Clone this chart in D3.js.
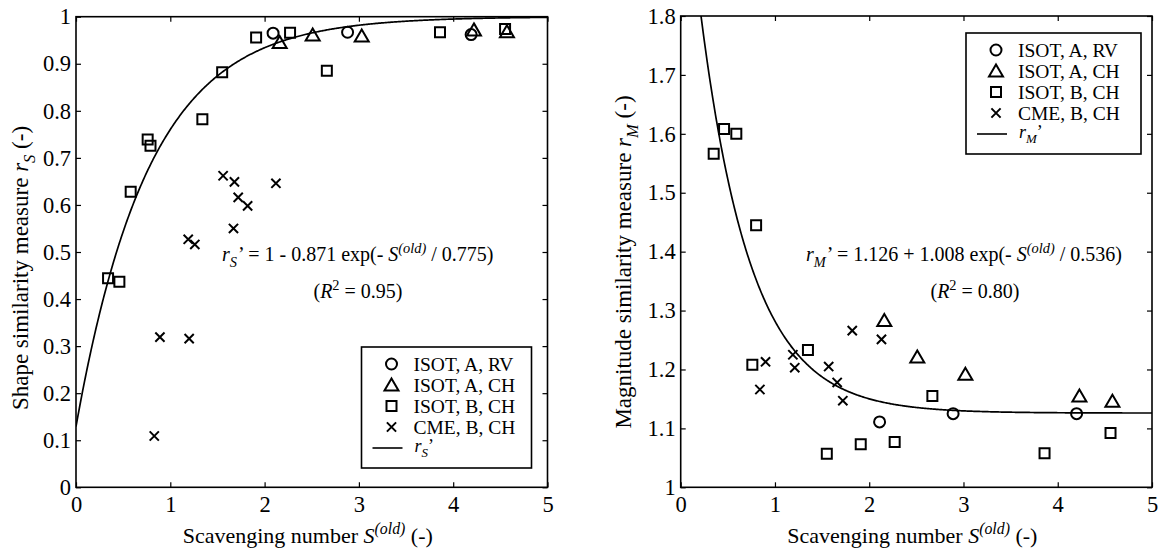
<!DOCTYPE html>
<html>
<head>
<meta charset="utf-8">
<script src="https://cdn.jsdelivr.net/npm/d3@7"></script>
<style>
    body { margin: 0; background: #fff; }
    svg { display: block; font-family: "Liberation Serif", "Times New Roman", serif; }
    svg text { font-family: "Liberation Serif", "Times New Roman", serif; fill: #000; }
</style>
</head>
<body>
<svg id="chart" width="1159" height="554"></svg>
<script>
// x axis (shared)
const xTicks = [0, 1, 2, 3, 4, 5];

// left panel: shape similarity r_S
const shapeTicks = [0, 0.1, 0.2, 0.3, 0.4, 0.5, 0.6, 0.7, 0.8, 0.9, 1];
const shapeCircle = [[2.09, 0.965], [2.88, 0.967], [4.19, 0.962]];
const shapeTriangle = [[2.16, 0.945], [2.51, 0.961], [3.03, 0.959], [4.22, 0.972], [4.57, 0.968]];
const shapeSquare = [[0.34, 0.444], [0.46, 0.437], [0.58, 0.628], [0.76, 0.739], [0.79, 0.726],
    [1.34, 0.782], [1.55, 0.882], [1.91, 0.956], [2.27, 0.966], [2.66, 0.885], [3.86, 0.967], [4.55, 0.974]];
const shapeCross = [[0.83, 0.109], [0.89, 0.319], [1.19, 0.527], [1.20, 0.316], [1.26, 0.516],
    [1.56, 0.662], [1.67, 0.550], [1.68, 0.649], [1.72, 0.616], [1.82, 0.598], [2.12, 0.646]];
const shapeFit = { a: 1, b: -0.871, c: 0.775 };

// right panel: magnitude similarity r_M
const magTicks = [1, 1.1, 1.2, 1.3, 1.4, 1.5, 1.6, 1.7, 1.8];
const magCircle = [[2.11, 1.111], [2.89, 1.125], [4.20, 1.125]];
const magTriangle = [[2.16, 1.283], [2.51, 1.221], [3.02, 1.192], [4.23, 1.155], [4.58, 1.146]];
const magSquare = [[0.35, 1.566], [0.46, 1.608], [0.59, 1.600], [0.76, 1.208], [0.80, 1.445],
    [1.35, 1.233], [1.55, 1.057], [1.91, 1.073], [2.27, 1.077], [2.67, 1.155], [3.86, 1.058], [4.56, 1.092]];
const magCross = [[0.84, 1.166], [0.90, 1.213], [1.19, 1.225], [1.21, 1.203], [1.57, 1.205],
    [1.66, 1.178], [1.72, 1.147], [1.82, 1.266], [2.13, 1.251]];
const magFit = { a: 1.126, b: 1.008, c: 0.536 };

const legendLabels = ['ISOT, A, RV', 'ISOT, A, CH', 'ISOT, B, CH', 'CME, B, CH'];

const svg = d3.select('#chart');
const tickFont = 22.5;
const labelFont = 22;

// marker shapes, centred on 0,0
function markerPath(kind) {
    if (kind === 'circle') return d3.symbol(d3.symbolCircle, 95)();
    if (kind === 'square') return 'M-5,-5H5V5H-5Z';
    if (kind === 'triangle') return 'M0,-6.5L7,5.5H-7Z';
    return 'M-4.6,-4.6L4.6,4.6M-4.6,4.6L4.6,-4.6';
}

function drawMarkers(g, data, kind, x, y) {
    g.append('g')
        .selectAll('path')
        .data(data)
        .join('path')
        .attr('transform', d => `translate(${x(d[0])},${y(d[1])})`)
        .attr('d', markerPath(kind))
        .attr('fill', 'none')
        .attr('stroke', '#000')
        .attr('stroke-width', 2);
}

// text made of pieces, with italic / sub / sup parts
function richText(g, px, py, parts, size, anchor) {
    const t = g.append('text')
        .attr('x', px).attr('y', py)
        .style('font-size', size + 'px')
        .attr('text-anchor', anchor || 'start');
    let shift = 0;
    parts.forEach(p => {
        const target = p.sub ? size * 0.3 : p.sup ? -size * 0.42 : (p.up || 0);
        const ts = t.append('tspan')
            .attr('dy', target - shift)
            .text(p.t);
        if (p.i) ts.style('font-style', 'italic');
        if (p.sub || p.sup) ts.style('font-size', (size * 0.72) + 'px');
        if (p.dx) ts.attr('dx', p.dx);
        shift = target;
    });
    return t;
}

function drawPanel(cfg) {
    const x = d3.scaleLinear().domain([0, 5]).range([cfg.left, cfg.right]);
    const y = d3.scaleLinear().domain(cfg.yDomain).range([cfg.bottom, cfg.top]);
    const g = svg.append('g');

    // inward ticks on all four sides
    const fmt = d => String(d);
    g.append('g').attr('transform', `translate(0,${cfg.bottom})`)
        .call(d3.axisBottom(x).tickValues(xTicks).tickFormat(fmt).tickSizeInner(-5).tickSizeOuter(0).tickPadding(9));
    g.append('g').attr('transform', `translate(0,${cfg.top})`)
        .call(d3.axisTop(x).tickValues(xTicks).tickFormat('').tickSizeInner(-5).tickSizeOuter(0));
    g.append('g').attr('transform', `translate(${cfg.left},0)`)
        .call(d3.axisLeft(y).tickValues(cfg.yTicks).tickFormat(fmt).tickSizeInner(-5).tickSizeOuter(0).tickPadding(5));
    g.append('g').attr('transform', `translate(${cfg.right},0)`)
        .call(d3.axisRight(y).tickValues(cfg.yTicks).tickFormat('').tickSizeInner(-5).tickSizeOuter(0));
    g.selectAll('.domain').remove();
    g.selectAll('.tick line').attr('stroke', '#000').attr('stroke-width', 1.2);
    g.selectAll('.tick text')
        .style('font-family', '"Liberation Serif", "Times New Roman", serif')
        .style('font-size', tickFont + 'px')
        .attr('fill', '#000');

    g.append('rect')
        .attr('x', cfg.left).attr('y', cfg.top)
        .attr('width', cfg.right - cfg.left).attr('height', cfg.bottom - cfg.top)
        .attr('fill', 'none').attr('stroke', '#000').attr('stroke-width', 1.6);

    // fitted curve, clipped to the axes box
    const clipId = 'clip-' + cfg.id;
    svg.append('clipPath').attr('id', clipId)
        .append('rect')
        .attr('x', cfg.left).attr('y', cfg.top)
        .attr('width', cfg.right - cfg.left).attr('height', cfg.bottom - cfg.top);
    const xs = d3.range(0, 5.0001, 0.01);
    const f = cfg.fit;
    g.append('path')
        .datum(xs)
        .attr('clip-path', `url(#${clipId})`)
        .attr('d', d3.line().x(d => x(d)).y(d => y(f.a + f.b * Math.exp(-d / f.c))))
        .attr('fill', 'none')
        .attr('stroke', '#000')
        .attr('stroke-width', 1.7);

    drawMarkers(g, cfg.circle, 'circle', x, y);
    drawMarkers(g, cfg.triangle, 'triangle', x, y);
    drawMarkers(g, cfg.square, 'square', x, y);
    drawMarkers(g, cfg.cross, 'cross', x, y);

    // x label
    richText(g, (cfg.left + cfg.right) / 2 - 4, 543, [
        { t: 'Scavenging number ' },
        { t: 'S', i: true },
        { t: '(old)', i: true, sup: true },
        { t: ' (-)' }
    ], labelFont, 'middle');

    // y label (rotated)
    const yl = g.append('g')
        .attr('transform', `translate(${cfg.yLabelX},${cfg.yLabelY}) rotate(-90)`);
    richText(yl, 0, 0, [
        { t: cfg.yLabel + ' ' },
        { t: 'r', i: true },
        { t: cfg.sym, i: true, sub: true },
        { t: ' (-)' }
    ], labelFont + 1, 'middle');

    // equation and R^2
    richText(g, cfg.eqX, 261, [
        { t: 'r', i: true },
        { t: cfg.sym, i: true, sub: true },
        { t: '’', dx: 1 },
        { t: cfg.eqText },
        { t: 'S', i: true },
        { t: '(old)', i: true, sup: true },
        { t: cfg.eqTail }
    ], 20, 'start');
    richText(g, cfg.r2X, 298, [
        { t: '(' },
        { t: 'R', i: true },
        { t: '2', sup: true },
        { t: ' = ' + cfg.r2 + ')' }
    ], 20, 'middle');

    // legend
    const lg = g.append('g').attr('transform', `translate(${cfg.legX},${cfg.legY})`);
    lg.append('rect')
        .attr('width', cfg.legW).attr('height', 121)
        .attr('fill', '#fff').attr('stroke', '#000').attr('stroke-width', 1.6);
    const kinds = ['circle', 'triangle', 'square', 'cross'];
    kinds.forEach((k, i) => {
        const cy = 17 + i * 21;
        lg.append('path')
            .attr('transform', `translate(30,${cy})`)
            .attr('d', markerPath(k))
            .attr('fill', 'none').attr('stroke', '#000').attr('stroke-width', 2);
        lg.append('text')
            .attr('x', 52).attr('y', cy + 7)
            .style('font-size', '19.5px')
            .text(legendLabels[i]);
    });
    const ly = 17 + 4 * 21;
    lg.append('line')
        .attr('x1', 11).attr('x2', 41).attr('y1', ly).attr('y2', ly)
        .attr('stroke', '#000').attr('stroke-width', 1.6);
    richText(lg, 53, ly + 4, [
        { t: 'r', i: true },
        { t: cfg.sym, i: true, sub: true },
        { t: '’', up: 0 }
    ], 18, 'start');
}

drawPanel({
    id: 'shape', left: 76, right: 547.5, top: 16.7, bottom: 487.3,
    yDomain: [0, 1], yTicks: shapeTicks, fit: shapeFit,
    circle: shapeCircle, triangle: shapeTriangle, square: shapeSquare, cross: shapeCross,
    yLabel: 'Shape similarity measure', sym: 'S', yLabelX: 28, yLabelY: 268,
    eqX: 222, eqText: ' = 1 - 0.871 exp(-  ', eqTail: ' / 0.775)', r2X: 358, r2: '0.95',
    legX: 361.5, legY: 347, legW: 170
});

drawPanel({
    id: 'mag', left: 680.7, right: 1152, top: 16, bottom: 487.3,
    yDomain: [1, 1.8], yTicks: magTicks, fit: magFit,
    circle: magCircle, triangle: magTriangle, square: magSquare, cross: magCross,
    yLabel: 'Magnitude similarity measure', sym: 'M', yLabelX: 631, yLabelY: 262,
    eqX: 806, eqText: ' = 1.126 + 1.008 exp(-  ', eqTail: ' / 0.536)', r2X: 975, r2: '0.80',
    legX: 966, legY: 33, legW: 175
});
</script>
</body>
</html>
